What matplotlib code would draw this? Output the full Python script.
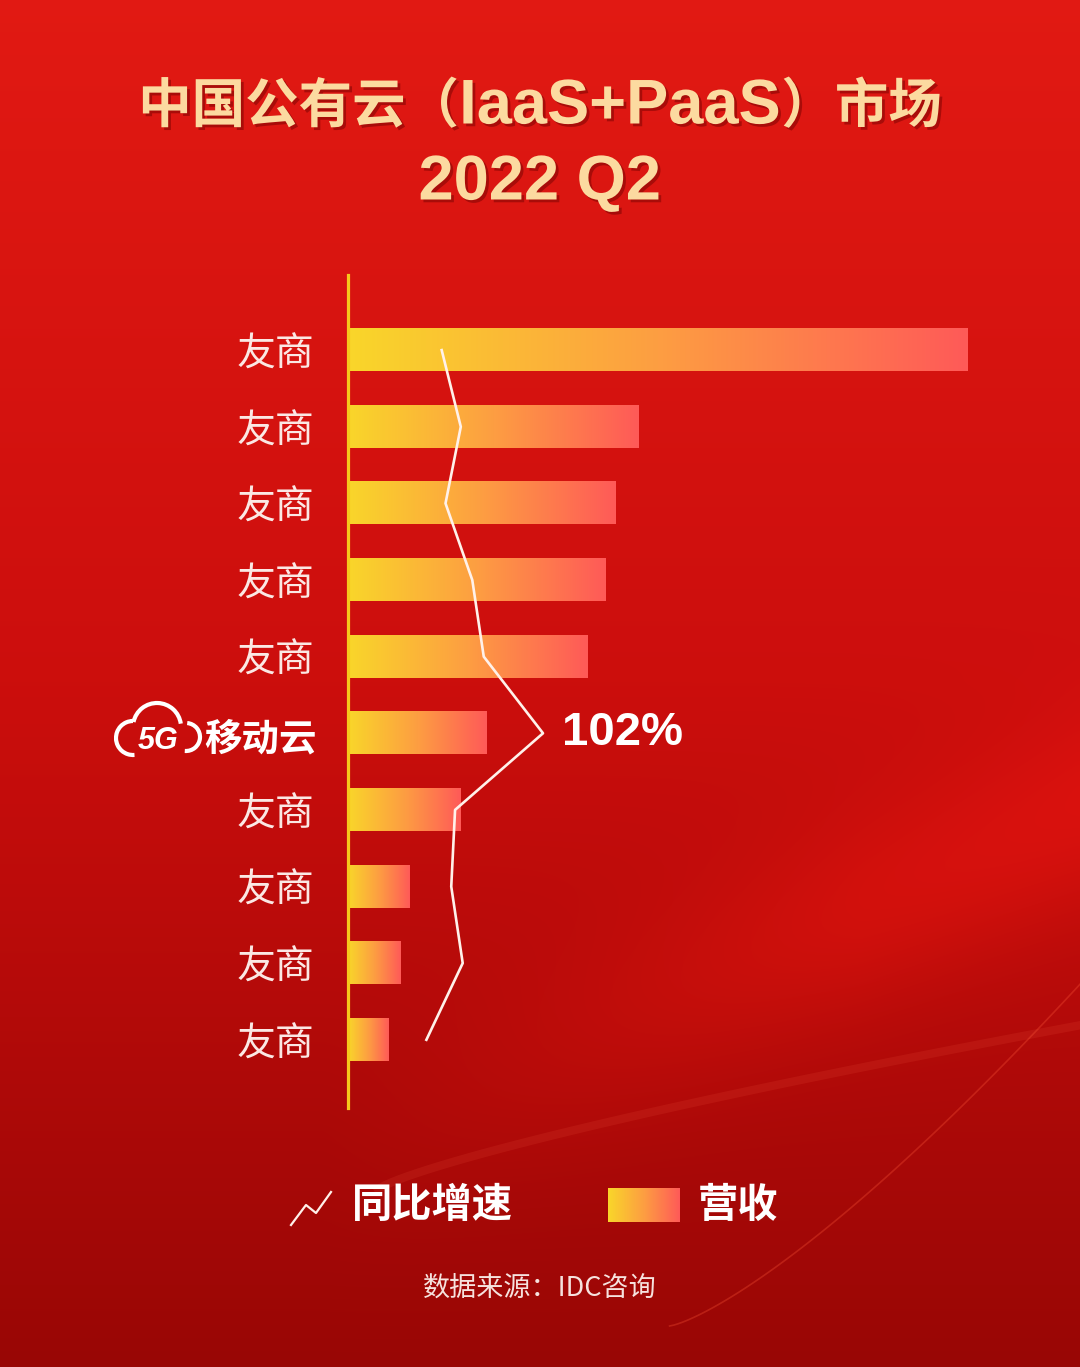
import numpy as np
import matplotlib
matplotlib.use("Agg")
import matplotlib.pyplot as plt
import matplotlib.patheffects as pe
from matplotlib.colors import LinearSegmentedColormap
from matplotlib.patches import Arc

plt.rcParams['font.family'] = ['Noto Sans CJK SC', 'DejaVu Sans']

# data (revenue as relative bar length, growth in %)
vendors = ["友商", "友商", "友商", "友商", "友商", "移动云", "友商", "友商", "友商", "友商"]
revenue = [100, 46.8, 43.2, 41.6, 38.7, 22.3, 18.1, 10.0, 8.5, 6.6]
growth = [49, 59, 51, 65, 71, 102, 56, 54, 60, 41]
highlight = 5

W, H = 1080, 1367
fig = plt.figure(figsize=(W / 100, H / 100), dpi=100)


def fx(px):
    return px / W


def fy(py):
    return 1 - py / H


# background: red gradient with a couple of faint light streaks
bg = fig.add_axes([0, 0, 1, 1], zorder=-5)
yy, xx = np.mgrid[0:1:300j, 0:1:240j]
top = np.array([0.885, 0.10, 0.075])
mid = np.array([0.80, 0.055, 0.05])
bot = np.array([0.60, 0.025, 0.02])
t = yy[..., None]
img = np.where(t < 0.5, top + (mid - top) * (t / 0.5), mid + (bot - mid) * ((t - 0.5) / 0.5))
# slightly lighter band sweeping up to the lower right
fade = np.clip((xx - 0.3) / 0.5, 0, 1)
band = np.exp(-((yy - (0.95 - 0.35 * xx)) ** 2) / 0.006) * fade
img = img + band[..., None] * np.array([0.09, 0.02, 0.01])
img = np.clip(img, 0, 1)
bg.imshow(img, extent=[0, 1, 0, 1], aspect='auto', origin='upper', interpolation='bicubic')
s = np.linspace(0, 1, 100)
bg.plot(0.62 + 0.38 * s, 0.03 + 0.25 * s ** 1.3, color='#ff5a3a', alpha=0.3, lw=1.2)
bg.plot(0.35 + 0.65 * s, 0.13 + 0.12 * s ** 0.8, color='#ff6a4a', alpha=0.12, lw=6)
bg.set_xlim(0, 1)
bg.set_ylim(0, 1)
bg.axis('off')

# title: CJK parts and the larger latin part laid out side by side
title_fx = [pe.withSimplePatchShadow(offset=(2, -2), shadow_rgbFace='#6a0000', alpha=0.45)]
title_color = '#fcdaa0'
pieces = [("中国公有云（", 38.5, 'Noto Sans CJK SC'),
          ("IaaS+PaaS", 45.5, 'Liberation Sans'),
          ("）市场", 38.5, 'Noto Sans CJK SC')]
renderer = fig.canvas.get_renderer()
texts = []
for txt, size, fam in pieces:
    texts.append(fig.text(0, fy(107), txt, ha='left', va='center', fontsize=size,
                          fontweight='bold', color=title_color, family=fam,
                          path_effects=title_fx))
widths = [tx.get_window_extent(renderer).width for tx in texts]
x = (W - sum(widths)) / 2
for tx, w in zip(texts, widths):
    tx.set_x(fx(x))
    x += w
fig.text(0.5, fy(183), "2022 Q2", ha='center', va='center',
         fontsize=45.5, fontweight='bold', color=title_color,
         family='Liberation Sans', path_effects=title_fx)

# main chart
ax_left, ax_right = 348, 999
ax_top, ax_bot = 275, 1108
ax = fig.add_axes([fx(ax_left), fy(ax_bot), fx(ax_right - ax_left), (ax_bot - ax_top) / H])
ax.set_facecolor('none')

cmap = LinearSegmentedColormap.from_list('bar', ['#f9d62a', '#fd9e42', '#ff5a58'])
grad = np.linspace(0, 1, 256)[None, :]
bar_h = 0.55
pos = np.arange(len(revenue))
for i, v in zip(pos, revenue):
    ax.imshow(grad, cmap=cmap, extent=(0, v, i + bar_h / 2, i - bar_h / 2),
              aspect='auto', zorder=2)

ax.set_xlim(0, 105)
ax.set_ylim(9.89, -0.98)
for side in ['top', 'right', 'bottom']:
    ax.spines[side].set_visible(False)
ax.spines['left'].set_color('#f6c81c')
ax.spines['left'].set_linewidth(2.3)
ax.spines['left'].set_zorder(3)
ax.set_xticks([])
ax.set_yticks(pos)
ax.set_yticklabels([v if i != highlight else "" for i, v in enumerate(vendors)],
                   fontsize=28, color='#fbe8e4')
ax.tick_params(axis='y', length=0, pad=24)

# growth line on its own x scale
ax2 = ax.twiny()
ax2.plot(growth, pos, color='#fff1ea', lw=1.9, zorder=4)
ax2.set_xlim(0, 340.5)
ax2.axis('off')
ax2.annotate(f"{growth[highlight]}%", (growth[highlight], highlight), xytext=(14, 0),
             textcoords='offset points', ha='left', va='center',
             fontsize=34, fontweight='bold', color='white', family='Liberation Sans')

# 5G 移动云 logo label
fig.text(fx(317), fy(739), vendors[highlight], ha='right', va='center',
         fontsize=27, fontweight='bold', color='white', style='italic')
lg = fig.add_axes([fx(114), fy(762), fx(90), 64 / H])
lg.set_xlim(0, 90)
lg.set_ylim(0, 64)
lg.axis('off')
lg.add_patch(Arc((19, 24), 34, 34, theta1=90, theta2=275, color='white', lw=3))
lg.add_patch(Arc((43, 35), 48, 48, theta1=8, theta2=168, color='white', lw=3))
lg.add_patch(Arc((72, 25), 28, 28, theta1=-95, theta2=85, color='white', lw=3))
lg.text(44, 21, "5G", ha='center', va='center', fontsize=22, fontweight='bold',
        color='white', family='Liberation Sans', style='italic')

# legend
lax = fig.add_axes([0, 0, 1, 1], zorder=3)
lax.set_xlim(0, W)
lax.set_ylim(H, 0)
lax.axis('off')
lax.plot([291, 306, 316, 331], [1225, 1205, 1213, 1192], color='#fff1ea', lw=1.6)
fig.text(fx(352), fy(1205), "同比增速", ha='left', va='center',
         fontsize=29, fontweight='bold', color='white')
sw = fig.add_axes([fx(608), fy(1222), fx(72), 34 / H], zorder=3)
sw.imshow(grad, cmap=cmap, aspect='auto')
sw.axis('off')
fig.text(fx(698), fy(1205), "营收", ha='left', va='center',
         fontsize=29, fontweight='bold', color='white')

fig.text(0.5, fy(1288), "数据来源：IDC咨询", ha='center', va='center',
         fontsize=19.5, color='#f6e2de')

fig.savefig("out.png", dpi=100)
